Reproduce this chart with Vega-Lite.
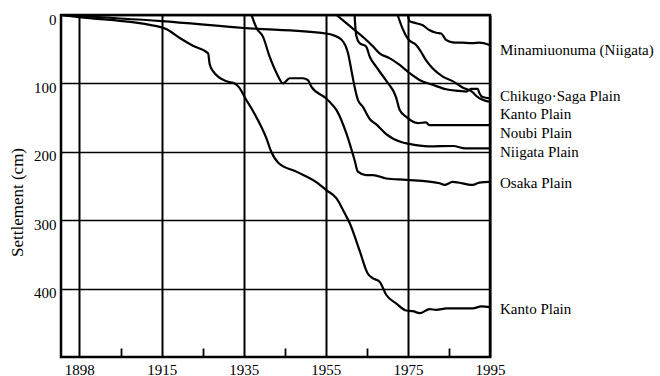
{
  "$schema": "https://vega.github.io/schema/vega-lite/v6.json",
  "autosize": {"type": "none"},
  "padding": {"left": 61, "top": 15, "right": 170, "bottom": 19},
  "width": 429,
  "height": 342,
  "background": "white",
  "config": {
    "font": "Liberation Serif",
    "view": {"stroke": "black", "strokeWidth": 2.5}
  },
  "datasets": {
    "series": [
      {"site": "Kanto A", "year": 1894.3, "cm": 0},
      {"site": "Kanto A", "year": 1898, "cm": 3},
      {"site": "Kanto A", "year": 1915, "cm": 18},
      {"site": "Kanto A", "year": 1916.2, "cm": 21},
      {"site": "Kanto A", "year": 1919.5, "cm": 34},
      {"site": "Kanto A", "year": 1922.6, "cm": 45},
      {"site": "Kanto A", "year": 1926.3, "cm": 56},
      {"site": "Kanto A", "year": 1926.7, "cm": 72},
      {"site": "Kanto A", "year": 1927.5, "cm": 82},
      {"site": "Kanto A", "year": 1930.8, "cm": 97},
      {"site": "Kanto A", "year": 1932.8, "cm": 100},
      {"site": "Kanto A", "year": 1934, "cm": 107},
      {"site": "Kanto A", "year": 1935.3, "cm": 121},
      {"site": "Kanto A", "year": 1937.3, "cm": 141},
      {"site": "Kanto A", "year": 1940.5, "cm": 180},
      {"site": "Kanto A", "year": 1941.7, "cm": 200},
      {"site": "Kanto A", "year": 1943.4, "cm": 216},
      {"site": "Kanto A", "year": 1947.8, "cm": 229},
      {"site": "Kanto A", "year": 1953.1, "cm": 246},
      {"site": "Kanto A", "year": 1955.1, "cm": 256},
      {"site": "Kanto A", "year": 1957.6, "cm": 268},
      {"site": "Kanto A", "year": 1959.6, "cm": 290},
      {"site": "Kanto A", "year": 1960.8, "cm": 304},
      {"site": "Kanto A", "year": 1963.2, "cm": 344},
      {"site": "Kanto A", "year": 1965.2, "cm": 378},
      {"site": "Kanto A", "year": 1966.5, "cm": 385},
      {"site": "Kanto A", "year": 1968.1, "cm": 390},
      {"site": "Kanto A", "year": 1969.7, "cm": 409},
      {"site": "Kanto A", "year": 1972.2, "cm": 422},
      {"site": "Kanto A", "year": 1974.6, "cm": 432},
      {"site": "Kanto A", "year": 1976.2, "cm": 433},
      {"site": "Kanto A", "year": 1977.9, "cm": 436},
      {"site": "Kanto A", "year": 1980.3, "cm": 430},
      {"site": "Kanto A", "year": 1981.9, "cm": 431},
      {"site": "Kanto A", "year": 1984.4, "cm": 429},
      {"site": "Kanto A", "year": 1990.8, "cm": 429},
      {"site": "Kanto A", "year": 1992.9, "cm": 426},
      {"site": "Kanto A", "year": 1995, "cm": 427},

      {"site": "Niigata", "year": 1894.3, "cm": 0},
      {"site": "Niigata", "year": 1915, "cm": 9},
      {"site": "Niigata", "year": 1935, "cm": 19},
      {"site": "Niigata", "year": 1955, "cm": 27},
      {"site": "Niigata", "year": 1957, "cm": 30},
      {"site": "Niigata", "year": 1958.8, "cm": 36},
      {"site": "Niigata", "year": 1959.8, "cm": 45},
      {"site": "Niigata", "year": 1960.4, "cm": 56},
      {"site": "Niigata", "year": 1961.2, "cm": 80},
      {"site": "Niigata", "year": 1962, "cm": 105},
      {"site": "Niigata", "year": 1962.8, "cm": 124},
      {"site": "Niigata", "year": 1964, "cm": 134},
      {"site": "Niigata", "year": 1965.7, "cm": 152},
      {"site": "Niigata", "year": 1967.3, "cm": 160},
      {"site": "Niigata", "year": 1969.7, "cm": 174},
      {"site": "Niigata", "year": 1973.5, "cm": 186},
      {"site": "Niigata", "year": 1975, "cm": 188},
      {"site": "Niigata", "year": 1980, "cm": 192},
      {"site": "Niigata", "year": 1986, "cm": 191.5},
      {"site": "Niigata", "year": 1989, "cm": 195},
      {"site": "Niigata", "year": 1995, "cm": 195},

      {"site": "Osaka", "year": 1936.9, "cm": 0},
      {"site": "Osaka", "year": 1938.1, "cm": 19},
      {"site": "Osaka", "year": 1939.7, "cm": 32},
      {"site": "Osaka", "year": 1941.3, "cm": 61},
      {"site": "Osaka", "year": 1943, "cm": 85},
      {"site": "Osaka", "year": 1944.6, "cm": 100},
      {"site": "Osaka", "year": 1946.2, "cm": 92.5},
      {"site": "Osaka", "year": 1949.4, "cm": 92.5},
      {"site": "Osaka", "year": 1950.6, "cm": 95},
      {"site": "Osaka", "year": 1951.5, "cm": 105},
      {"site": "Osaka", "year": 1955.1, "cm": 122},
      {"site": "Osaka", "year": 1955.9, "cm": 127},
      {"site": "Osaka", "year": 1957.6, "cm": 139},
      {"site": "Osaka", "year": 1960, "cm": 173},
      {"site": "Osaka", "year": 1962, "cm": 212},
      {"site": "Osaka", "year": 1962.8, "cm": 229},
      {"site": "Osaka", "year": 1964.8, "cm": 234},
      {"site": "Osaka", "year": 1966.5, "cm": 234},
      {"site": "Osaka", "year": 1969.7, "cm": 239},
      {"site": "Osaka", "year": 1974.6, "cm": 241},
      {"site": "Osaka", "year": 1982.7, "cm": 246},
      {"site": "Osaka", "year": 1983.9, "cm": 248.5},
      {"site": "Osaka", "year": 1985.9, "cm": 244},
      {"site": "Osaka", "year": 1990.8, "cm": 248.5},
      {"site": "Osaka", "year": 1992.4, "cm": 245},
      {"site": "Osaka", "year": 1995, "cm": 244},

      {"site": "Kanto B", "year": 1957.6, "cm": 0},
      {"site": "Kanto B", "year": 1960, "cm": 12},
      {"site": "Kanto B", "year": 1962.4, "cm": 24},
      {"site": "Kanto B", "year": 1964.4, "cm": 34},
      {"site": "Kanto B", "year": 1966.5, "cm": 46},
      {"site": "Kanto B", "year": 1968.1, "cm": 56},
      {"site": "Kanto B", "year": 1970.5, "cm": 63},
      {"site": "Kanto B", "year": 1973, "cm": 73},
      {"site": "Kanto B", "year": 1975.4, "cm": 85},
      {"site": "Kanto B", "year": 1977.8, "cm": 95},
      {"site": "Kanto B", "year": 1981, "cm": 102},
      {"site": "Kanto B", "year": 1984.3, "cm": 108.6},
      {"site": "Kanto B", "year": 1987.5, "cm": 111},
      {"site": "Kanto B", "year": 1989.2, "cm": 112},
      {"site": "Kanto B", "year": 1990.4, "cm": 108},
      {"site": "Kanto B", "year": 1992, "cm": 108},
      {"site": "Kanto B", "year": 1992.4, "cm": 114},
      {"site": "Kanto B", "year": 1993.2, "cm": 120},
      {"site": "Kanto B", "year": 1995, "cm": 122},

      {"site": "Chikugo-Saga", "year": 1972.5, "cm": 0},
      {"site": "Chikugo-Saga", "year": 1973.7, "cm": 20},
      {"site": "Chikugo-Saga", "year": 1975, "cm": 35},
      {"site": "Chikugo-Saga", "year": 1977, "cm": 44},
      {"site": "Chikugo-Saga", "year": 1978, "cm": 52},
      {"site": "Chikugo-Saga", "year": 1979.4, "cm": 66},
      {"site": "Chikugo-Saga", "year": 1981, "cm": 78},
      {"site": "Chikugo-Saga", "year": 1983.5, "cm": 90},
      {"site": "Chikugo-Saga", "year": 1986, "cm": 97},
      {"site": "Chikugo-Saga", "year": 1988.3, "cm": 106},
      {"site": "Chikugo-Saga", "year": 1990.8, "cm": 113},
      {"site": "Chikugo-Saga", "year": 1991.6, "cm": 118},
      {"site": "Chikugo-Saga", "year": 1993.2, "cm": 124},
      {"site": "Chikugo-Saga", "year": 1995, "cm": 127},

      {"site": "Noubi", "year": 1962, "cm": 0},
      {"site": "Noubi", "year": 1962.4, "cm": 30},
      {"site": "Noubi", "year": 1963.2, "cm": 41},
      {"site": "Noubi", "year": 1964.8, "cm": 46},
      {"site": "Noubi", "year": 1965.7, "cm": 61},
      {"site": "Noubi", "year": 1967.3, "cm": 76},
      {"site": "Noubi", "year": 1969.7, "cm": 96},
      {"site": "Noubi", "year": 1972.1, "cm": 120},
      {"site": "Noubi", "year": 1973, "cm": 139},
      {"site": "Noubi", "year": 1974.6, "cm": 149},
      {"site": "Noubi", "year": 1977.4, "cm": 158},
      {"site": "Noubi", "year": 1979.4, "cm": 157},
      {"site": "Noubi", "year": 1980.2, "cm": 161},
      {"site": "Noubi", "year": 1995, "cm": 161},

      {"site": "Minamiuonuma", "year": 1975, "cm": 0},
      {"site": "Minamiuonuma", "year": 1975.4, "cm": 9},
      {"site": "Minamiuonuma", "year": 1977, "cm": 12},
      {"site": "Minamiuonuma", "year": 1978.6, "cm": 15},
      {"site": "Minamiuonuma", "year": 1980.2, "cm": 22},
      {"site": "Minamiuonuma", "year": 1981.9, "cm": 26},
      {"site": "Minamiuonuma", "year": 1983.1, "cm": 27},
      {"site": "Minamiuonuma", "year": 1984.3, "cm": 36.5},
      {"site": "Minamiuonuma", "year": 1985.9, "cm": 40},
      {"site": "Minamiuonuma", "year": 1988.3, "cm": 40.5},
      {"site": "Minamiuonuma", "year": 1990.8, "cm": 41},
      {"site": "Minamiuonuma", "year": 1992.4, "cm": 40.5},
      {"site": "Minamiuonuma", "year": 1995, "cm": 44}
    ],
    "labels": [
      {"label": "Minamiuonuma (Niigata)", "year": 1995, "cm": 51},
      {"label": "Chikugo·Saga Plain", "year": 1995, "cm": 118},
      {"label": "Kanto Plain", "year": 1995, "cm": 145},
      {"label": "Noubi Plain", "year": 1995, "cm": 172},
      {"label": "Niigata Plain", "year": 1995, "cm": 200.5},
      {"label": "Osaka Plain", "year": 1995, "cm": 245},
      {"label": "Kanto Plain", "year": 1995, "cm": 430}
    ]
  },
  "layer": [
    {
      "data": {"name": "series"},
      "mark": {"type": "line", "color": "black", "strokeWidth": 2.2, "interpolate": "monotone"},
      "encoding": {
        "x": {
          "field": "year",
          "type": "quantitative",
          "scale": {"domain": [1894.3, 1898, 1915, 1995], "range": [0, 18.3, 100.7, 429], "zero": false, "nice": false},
          "axis": {
            "title": null,
            "format": "d",
            "values": [1898, 1902.25, 1906.5, 1910.75, 1915, 1920, 1925, 1930, 1935, 1940, 1945, 1950, 1955, 1960, 1965, 1970, 1975, 1980, 1985, 1990, 1995],
            "domain": false,
            "grid": true,
            "gridColor": "black",
            "gridWidth": 2,
            "gridOpacity": {"condition": {"test": "indexof([1898,1915,1935,1955,1975,1995], datum.value) < 0", "value": 0}, "value": 1},
            "ticks": true,
            "tickColor": "black",
            "tickWidth": 1.8,
            "tickSize": -9,
            "tickOpacity": {"condition": {"test": "indexof([1898,1915,1935,1955,1975,1995], datum.value) >= 0", "value": 0}, "value": 1},
            "labelExpr": "indexof([1898,1915,1935,1955,1975,1995], datum.value) >= 0 ? datum.label : ''",
            "labelOverlap": false,
            "labelFlush": false,
            "labelFont": "Liberation Serif",
            "labelFontSize": 15,
            "labelColor": "black",
            "labelPadding": 14
          }
        },
        "y": {
          "field": "cm",
          "type": "quantitative",
          "scale": {"domain": [0, 500], "reverse": true, "zero": false, "nice": false},
          "axis": {
            "title": "Settlement (cm)",
            "values": [0, 100, 200, 300, 400],
            "domain": false,
            "ticks": false,
            "grid": true,
            "gridColor": "black",
            "gridWidth": 1.5,
            "labelFont": "Liberation Serif",
            "labelFontSize": 15,
            "labelColor": "black",
            "labelPadding": 5,
            "labelOffset": 4,
            "titleFont": "Liberation Serif",
            "titleFontSize": 17,
            "titleFontWeight": "normal",
            "titleColor": "black",
            "titleX": -44,
            "titleY": 187,
            "titleBaseline": "middle",
            "titleAlign": "center"
          }
        },
        "detail": {"field": "site"}
      }
    },
    {
      "data": {"name": "labels"},
      "mark": {"type": "text", "align": "left", "baseline": "middle", "dx": 10, "font": "Liberation Serif", "fontSize": 15, "color": "black"},
      "encoding": {
        "x": {"field": "year", "type": "quantitative"},
        "y": {"field": "cm", "type": "quantitative"},
        "text": {"field": "label"}
      }
    }
  ]
}
